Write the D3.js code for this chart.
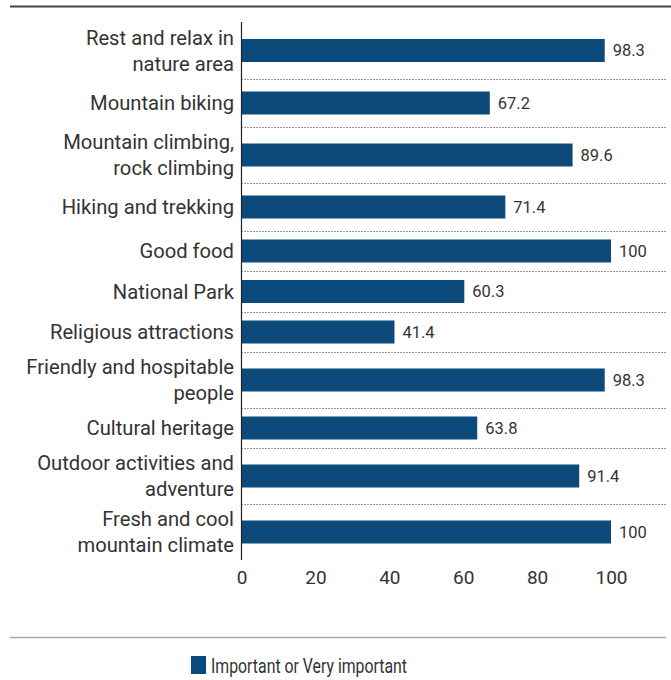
<!DOCTYPE html>
<html>
<head>
<meta charset="utf-8">
<script src="https://cdn.jsdelivr.net/npm/d3@7"></script>
<style>
  html, body { margin: 0; padding: 0; background: #fff; }
  svg { display: block; font-family: "Roboto", "Noto Sans", sans-serif; }
</style>
</head>
<body>
<svg id="chart" width="671" height="680"></svg>
<script>
// Share of respondents rating each attribute as important
const categories = [
  ["Rest and relax in", "nature area"],
  ["Mountain biking"],
  ["Mountain climbing,", "rock climbing"],
  ["Hiking and trekking"],
  ["Good food"],
  ["National Park"],
  ["Religious attractions"],
  ["Friendly and hospitable", "people"],
  ["Cultural heritage"],
  ["Outdoor activities and", "adventure"],
  ["Fresh and cool", "mountain climate"]
];
const values = [98.3, 67.2, 89.6, 71.4, 100, 60.3, 41.4, 98.3, 63.8, 91.4, 100];
const tickValues = [0, 20, 40, 60, 80, 100];
const seriesName = "Important or Very important";

const barColor = "#0b4a7b";
const textColor = "#333";

const svg = d3.select("#chart");

const plotLeft = 241.5, plotRight = 611;
const plotTop = 22;
// row heights of each category band (taller rows for two-line labels)
const rowHeights = [57, 48, 56, 48, 40, 41, 40, 56, 40, 56, 56];
const rowTops = [];
rowHeights.reduce((acc, h) => { rowTops.push(acc); return acc + h; }, plotTop);
const plotBottom = plotTop + d3.sum(rowHeights);

const keys = categories.map(c => c.join(" "));
const yTop = d3.scaleOrdinal().domain(keys).range(rowTops);
const yH = d3.scaleOrdinal().domain(keys).range(rowHeights);
const x = d3.scaleLinear().domain([0, 100]).range([plotLeft, plotRight]);

const barH = 23;

// top rule
svg.append("line")
  .attr("x1", 10).attr("x2", 671).attr("y1", 6.5).attr("y2", 6.5)
  .attr("stroke", "#444").attr("stroke-width", 2);

// dotted separators between categories
svg.append("g").selectAll("line")
  .data(keys.slice(1))
  .join("line")
  .attr("x1", plotLeft).attr("x2", 667)
  .attr("y1", d => Math.round(yTop(d)) + 0.5)
  .attr("y2", d => Math.round(yTop(d)) + 0.5)
  .attr("stroke", "#333").attr("stroke-width", 1)
  .attr("stroke-dasharray", "1,2");

// bars
svg.append("g").selectAll("rect")
  .data(values)
  .join("rect")
  .attr("x", x(0))
  .attr("y", (d, i) => yTop(keys[i]) + yH(keys[i]) / 2 - barH / 2)
  .attr("width", d => x(d) - x(0))
  .attr("height", barH)
  .attr("fill", barColor);

// value labels
svg.append("g").selectAll("text")
  .data(values)
  .join("text")
  .attr("x", d => x(d) + 8)
  .attr("y", (d, i) => yTop(keys[i]) + yH(keys[i]) / 2)
  .attr("dy", "0.35em")
  .attr("font-size", 16.5)
  .attr("fill", textColor)
  .text(d => d);

// category labels
const lab = svg.append("g").selectAll("text")
  .data(categories)
  .join("text")
  .attr("text-anchor", "end")
  .attr("font-size", 20.2)
  .attr("fill", textColor)
  .attr("y", (d, i) => yTop(keys[i]) + yH(keys[i]) / 2);
lab.each(function(lines) {
  const t = d3.select(this);
  const lh = 26;
  lines.forEach((s, j) => {
    t.append("tspan")
      .attr("x", 234)
      .attr("dy", j === 0 ? ((-(lines.length - 1) * lh / 2) + 7) + "px" : lh + "px")
      .text(s);
  });
});

// y axis line
svg.append("line")
  .attr("x1", plotLeft).attr("x2", plotLeft)
  .attr("y1", plotTop).attr("y2", plotBottom)
  .attr("stroke", "#222").attr("stroke-width", 1.2);

// x axis tick labels
const xAxis = d3.axisBottom(x).tickValues(tickValues).tickSize(0).tickPadding(0);
const ax = svg.append("g").attr("transform", `translate(0,${plotBottom + 10})`).call(xAxis);
ax.select(".domain").remove();
ax.selectAll("text")
  .attr("font-size", 19)
  .attr("font-family", "Roboto, 'Noto Sans', sans-serif")
  .attr("fill", textColor);

// bottom rule
svg.append("line")
  .attr("x1", 10).attr("x2", 666).attr("y1", 637.5).attr("y2", 637.5)
  .attr("stroke", "#aaa").attr("stroke-width", 1.5);

// legend
const lg = svg.append("g").attr("transform", "translate(191,656)");
lg.append("rect").attr("width", 15).attr("height", 18).attr("fill", barColor);
lg.append("text").attr("x", 20).attr("y", 9.5).attr("dy", "0.35em")
  .attr("font-size", 21).attr("fill", textColor)
  .attr("textLength", 196).attr("lengthAdjust", "spacingAndGlyphs")
  .text(seriesName);
</script>
</body>
</html>
